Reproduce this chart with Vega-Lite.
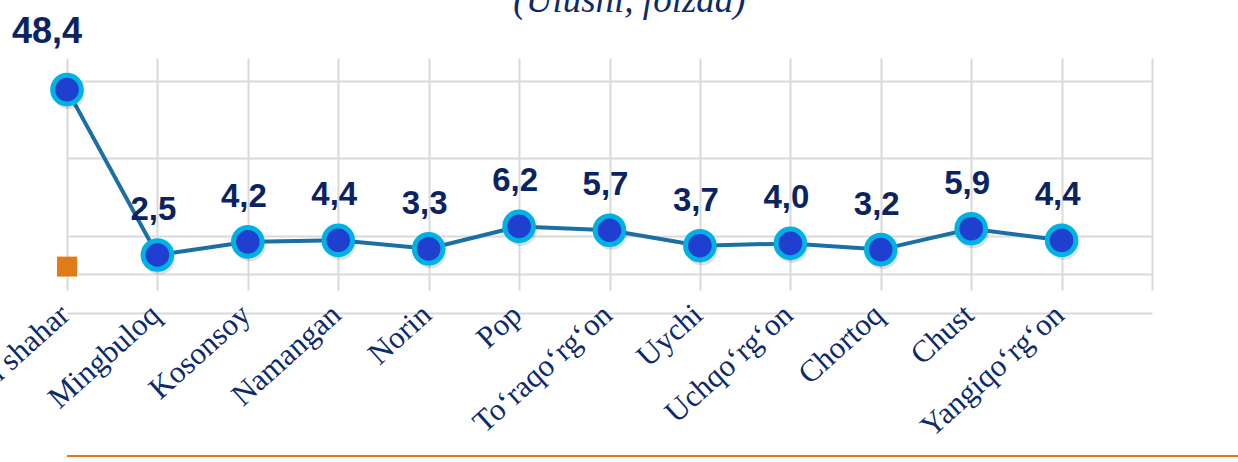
{
  "$schema": "https://vega.github.io/schema/vega-lite/v6.json",
  "width": 1171,
  "height": 255,
  "autosize": {"type": "none"},
  "padding": {"left": 67, "top": 58, "right": 0, "bottom": 149},
  "background": "white",
  "title": {
    "text": "(Ulushi, foizda)",
    "font": "Liberation Serif",
    "fontStyle": "italic",
    "fontWeight": "normal",
    "fontSize": 37,
    "color": "#0d2a6b",
    "anchor": "middle",
    "baseline": "alphabetic",
    "dx": -23,
    "dy": 39,
    "offset": 4
  },
  "config": {
    "view": {"stroke": null},
    "locale": {"number": {"decimal": ",", "thousands": " ", "grouping": [3], "currency": ["", ""]}}
  },
  "data": {
    "values": [
      {"district": "Namangan shahar", "value": 48.4, "series": "main"},
      {"district": "Mingbuloq", "value": 2.5, "series": "main"},
      {"district": "Kosonsoy", "value": 4.2, "series": "main"},
      {"district": "Namangan", "value": 4.4, "series": "main"},
      {"district": "Norin", "value": 3.3, "series": "main"},
      {"district": "Pop", "value": 6.2, "series": "main"},
      {"district": "To‘raqo‘rg‘on", "value": 5.7, "series": "main"},
      {"district": "Uychi", "value": 3.7, "series": "main"},
      {"district": "Uchqo‘rg‘on", "value": 4.0, "series": "main"},
      {"district": "Chortoq", "value": 3.2, "series": "main"},
      {"district": "Chust", "value": 5.9, "series": "main"},
      {"district": "Yangiqo‘rg‘on", "value": 4.4, "series": "main"},
      {"district": "Namangan shahar", "value": 1.0, "series": "other"}
    ]
  },
  "encoding": {
    "x": {
      "field": "district",
      "type": "nominal",
      "sort": null,
      "scale": {
        "type": "point",
        "padding": 0,
        "domain": ["Namangan shahar", "Mingbuloq", "Kosonsoy", "Namangan", "Norin", "Pop", "To‘raqo‘rg‘on", "Uychi", "Uchqo‘rg‘on", "Chortoq", "Chust", "Yangiqo‘rg‘on", ""],
        "range": [0, 1085]
      },
      "axis": {
        "title": null,
        "domain": false,
        "ticks": false,
        "grid": true,
        "gridColor": "#d9d9d9",
        "gridWidth": 2,
        "labelAngle": -42,
        "labelAlign": "right",
        "labelBaseline": "alphabetic",
        "labelPadding": 4,
        "labelOffset": 4,
        "labelFont": "Liberation Serif",
        "labelFontSize": 31,
        "labelColor": "#0d2a6b",
        "labelLimit": 0,
        "labelOverlap": false,
        "labelBound": false,
        "labelFlush": false
      }
    },
    "y": {
      "field": "value",
      "type": "quantitative",
      "scale": {"domain": [-5, 10, 51.5], "range": [255, 139, 23], "nice": false, "zero": false},
      "axis": {
        "title": null,
        "values": [-5, 0, 5, 24, 51.5],
        "labels": false,
        "ticks": false,
        "domain": false,
        "grid": true,
        "gridColor": "#d9d9d9",
        "gridWidth": 2
      }
    }
  },
  "layer": [
    {
      "mark": {"type": "rule", "color": "#e07b1a", "strokeWidth": 2},
      "encoding": {"x": null, "y": {"datum": -23.5, "type": "quantitative"}}
    },
    {
      "transform": [{"filter": "datum.series === 'main'"}],
      "mark": {"type": "line", "color": "#1b6fa3", "strokeWidth": 4}
    },
    {
      "transform": [{"filter": "datum.series === 'main'"}],
      "mark": {"type": "circle", "size": 960, "color": "#000000", "opacity": 0.12, "xOffset": 2, "yOffset": 4}
    },
    {
      "transform": [{"filter": "datum.series === 'main'"}],
      "mark": {"type": "circle", "size": 820, "fill": "#1f3fcf", "stroke": "#00b2e3", "strokeWidth": 5, "opacity": 1}
    },
    {
      "transform": [{"filter": "datum.series === 'other'"}],
      "mark": {"type": "square", "size": 400, "color": "#e07b1a", "opacity": 1}
    },
    {
      "transform": [{"filter": "datum.series === 'main' && datum.value < 40"}],
      "mark": {"type": "text", "font": "Liberation Sans", "fontWeight": "bold", "fontSize": 33, "color": "#0b2461", "baseline": "alphabetic", "dx": -4, "dy": -35},
      "encoding": {"text": {"field": "value", "type": "quantitative", "format": ".1f"}}
    },
    {
      "transform": [{"filter": "datum.series === 'main' && datum.value >= 40"}],
      "mark": {"type": "text", "font": "Liberation Sans", "fontWeight": "bold", "fontSize": 36, "color": "#0b2461", "baseline": "alphabetic", "dx": -20, "dy": -47},
      "encoding": {"text": {"field": "value", "type": "quantitative", "format": ".1f"}}
    }
  ]
}
